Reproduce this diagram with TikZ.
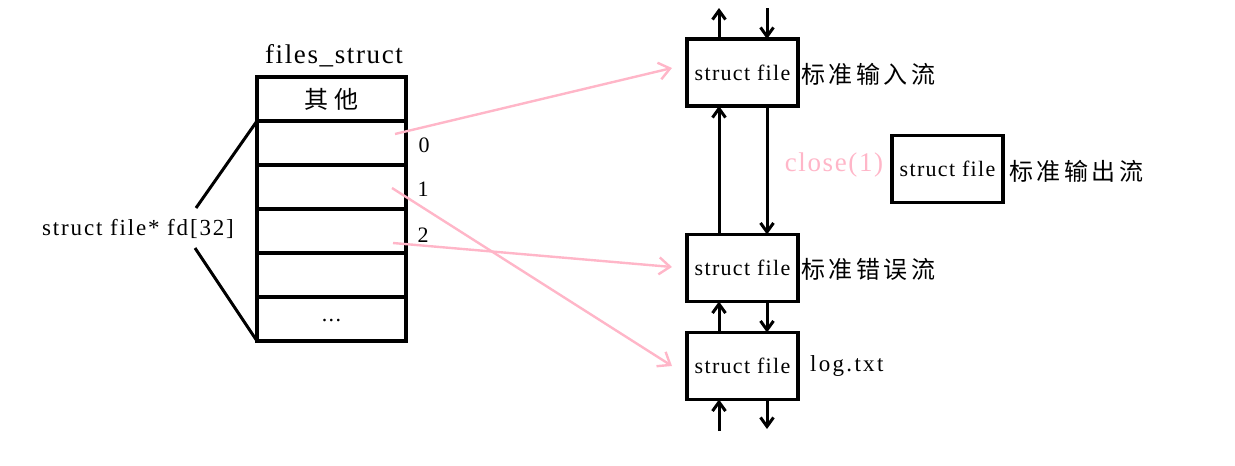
\documentclass[tikz,border=0pt]{standalone}
\usepackage{fontspec}
\setmainfont{Liberation Serif}
\newfontfamily\cjk{Noto Sans CJK SC}[LetterSpace=15]
\newfontfamily\cjkb{Noto Sans CJK SC}[LetterSpace=25]
\usetikzlibrary{arrows.meta}
\definecolor{fdpink}{RGB}{255,182,200}
\newcommand{\fsz}[2]{\fontsize{#1}{#1}\selectfont\addfontfeature{LetterSpace=#2}}
\begin{document}
\begin{tikzpicture}[x=1pt,y=-1pt,
  cell/.style={draw, line width=3.2pt, minimum width=149pt, minimum height=44pt, inner sep=0pt, outer sep=0pt, anchor=north west, font=\fsz{22}{6}},
  fbox/.style={draw, line width=3.2pt, minimum width=111pt, minimum height=67pt, inner sep=0pt, outer sep=0pt, font=\fsz{22}{6}},
  lbl/.style={inner sep=0pt, font=\fsz{22}{6}},
  cjklbl/.style={inner sep=0pt, anchor=west, font=\cjk\fontsize{24}{24}\selectfont},
  blk/.style={line width=3pt, -{Straight Barb[length=9pt,width=13pt]}},
  pk/.style={draw=fdpink, line width=2.4pt, -{Straight Barb[length=11pt,width=17pt]}},
  tie/.style={line width=3pt}]
\useasboundingbox (0,0) rectangle (1235,466);

% table
\node[lbl, font=\fsz{27}{6}] (fs) at (334,56) {files\_struct};
\node[cell, font=\cjkb\fontsize{24}{24}\selectfont] (r0) at (257,77) {其他};
\node[cell] (r1) at (257,121) {};
\node[cell] (r2) at (257,165) {};
\node[cell] (r3) at (257,209) {};
\node[cell] (r4) at (257,253) {};
\node[cell] (r5) at (257,297) {\raisebox{-5pt}{...}};

\node[lbl] (n0) at (424,145) {0};
\node[lbl] (n1) at (423,189) {1};
\node[lbl] (n2) at (423,235) {2};

% fd label
\node[lbl, font=\fsz{23}{8}] (fd) at (138,229) {struct file* fd[32]};
\coordinate (fdU) at (196,208);
\coordinate (fdD) at (195,248);
\draw[tie] (fdU) -- (r1.north west);
\draw[tie] (fdD) -- (r5.south west);

% file boxes
\node[fbox] (fin) at (742.5,72.5) {struct file};
\node[fbox] (ferr) at (742.5,268) {struct file};
\node[fbox] (flog) at (742.5,366) {struct file};
\node[fbox] (fout) at (947.5,169) {struct file};

\node[cjklbl] (lin) at (801,74) {标准输入流};
\node[cjklbl] (lerr) at (801,269) {标准错误流};
\node[cjklbl] (lout) at (1009,171) {标准输出流};
\node[lbl, anchor=west, font=\fsz{23}{10}] (llog) at (810,366) {log.txt};
\node[lbl, text=fdpink, font=\fsz{27}{6}] (cls) at (834,165) {close(1)};

% black arrows
\coordinate (inU) at (719,8);
\coordinate (inD) at (767,8);
\coordinate (logU) at (719,431);
\coordinate (logD) at (767,429);
\draw[blk] ([xshift=32pt]fin.north west) -- (inU);
\draw[blk] (inD) -- ([xshift=-31pt]fin.north east);
\draw[blk] ([xshift=32pt]ferr.north west) -- ([xshift=32pt]fin.south west);
\draw[blk] ([xshift=-31pt]fin.south east) -- ([xshift=-31pt]ferr.north east);
\draw[blk] ([xshift=32pt]flog.north west) -- ([xshift=32pt]ferr.south west);
\draw[blk] ([xshift=-31pt]ferr.south east) -- ([xshift=-31pt]flog.north east);
\draw[blk] (logU) -- ([xshift=32pt]flog.south west);
\draw[blk] ([xshift=-31pt]flog.south east) -- (logD);

% pink arrows
\draw[pk] ([shift={(-11,-9)}]r1.east) -- ([shift={(-15,-4.5)}]fin.west);
\draw[pk] ([shift={(-14,1)}]r2.east) -- ([shift={(-15,0)}]flog.west);
\draw[pk] ([shift={(-13,12)}]r3.east) -- ([shift={(-15,-1)}]ferr.west);
\end{tikzpicture}
\end{document}
